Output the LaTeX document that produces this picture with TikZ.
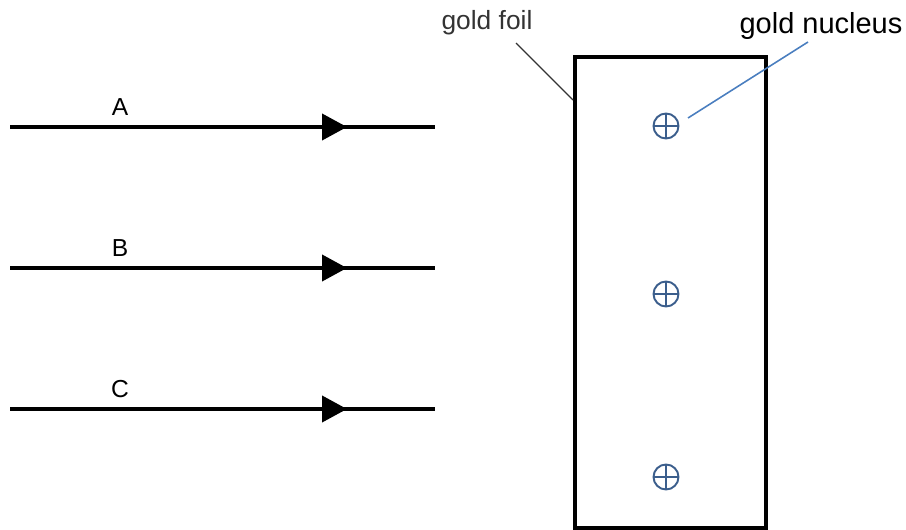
\documentclass[tikz,border=0pt]{standalone}
\usepackage{fontspec}
\setmainfont{Liberation Sans}
\usetikzlibrary{arrows.meta,decorations.markings}

\definecolor{nucblue}{HTML}{3B5E8C}
\definecolor{leadblue}{HTML}{4A7EBF}
\definecolor{darktext}{HTML}{333333}

\tikzset{
  beam/.style={line width=2.2pt,
    postaction={decorate,decoration={markings,
      mark=at position 0.793 with {\arrow{Triangle[length=0.5cm,width=0.52cm]}}}}},
  nucleus/.style={circle,draw=nucblue,line width=1.1pt,minimum size=0.5cm,inner sep=0pt,
    path picture={\draw[nucblue,line width=1.1pt]
      (path picture bounding box.north) -- (path picture bounding box.south)
      (path picture bounding box.west) -- (path picture bounding box.east);}}
}

\begin{document}
\begin{tikzpicture}[x=0.02cm,y=-0.02cm]
    \useasboundingbox (0,0) rectangle (906,530);

    % three beams of alpha particles
    \foreach \y/\lab in {127/A,268/B,409/C}{
        \coordinate (\lab-start) at (10,\y);
        \coordinate (\lab-end) at (435,\y);
        \draw[beam] (\lab-start) -- (\lab-end);
        \node[font=\fontsize{14}{16}\selectfont] (lab\lab) at (120,\y-20) {\lab};
    }

    % the foil
    \draw[line width=2.8pt] (575,57) rectangle (766,528);

    % nuclei in the foil
    \foreach \y/\n in {126/1,294/2,477/3}{
        \node[nucleus] (n\n) at (666,\y) {};
    }

    % labels
    \node[font=\fontsize{15}{17}\selectfont,text=darktext] (foil) at (487,23) {gold foil};
    \node[font=\fontsize{16.5}{19}\selectfont] (nucl) at (821,26) {gold nucleus};

    \coordinate (foil-end) at (516,43);
    \coordinate (foil-tip) at (573,100);
    \draw[darktext,line width=0.7pt] (foil-end) -- (foil-tip);

    \coordinate (nucl-end) at (808,42);
    \coordinate (nucl-tip) at (688,118);
    \draw[leadblue,line width=0.9pt] (nucl-end) -- (nucl-tip);

\end{tikzpicture}
\end{document}
